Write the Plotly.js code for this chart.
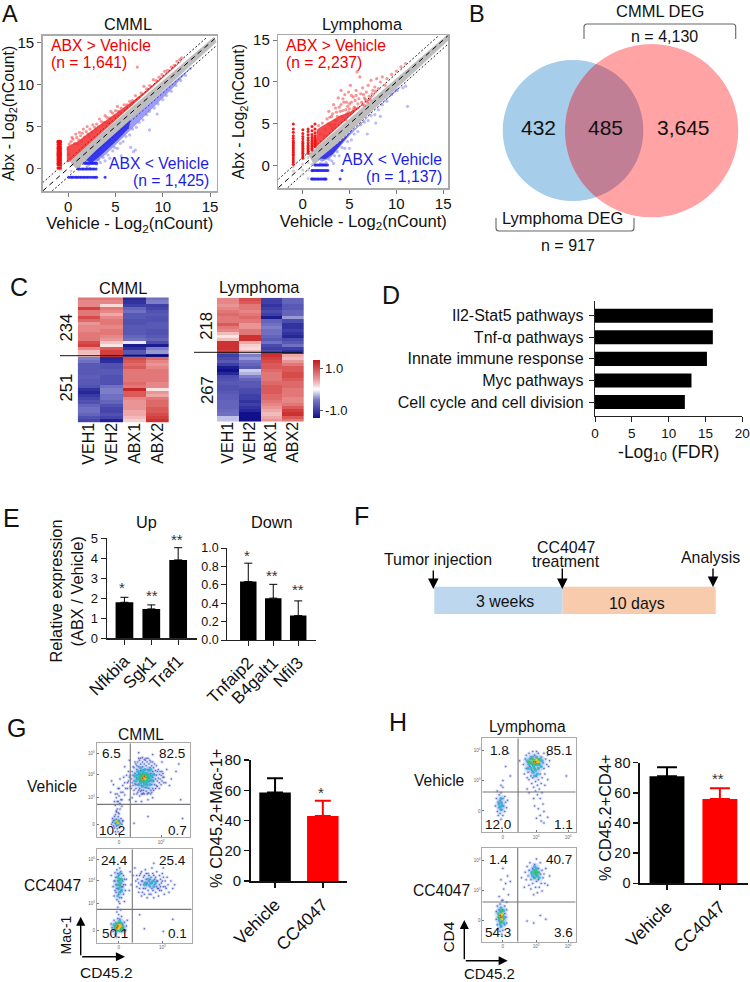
<!DOCTYPE html>
<html><head><meta charset="utf-8">
<script src="https://cdn.plot.ly/plotly-3.0.1.min.js"></script>
<style>html,body{margin:0;padding:0;background:#fff}#c{width:750px;height:982px}</style></head>
<body><div id="c"></div>
<script>
// ===== DATA =====
// Panel A - CMML
const cmmlBandX=[0.1,15.4,15.7,0.9];
const cmmlBandY=[0.9,15.7,15.1,-0.1];
const cmmlRedEdgeX=[-0.15,-0.15,0.4,1,2,3,4,5,6,7,8,9,10,11,12,11.9,10,8,6,4,2,0.5,0.1];
const cmmlRedEdgeY=[0.7,2.6,2.9,3.2,4.1,4.9,5.7,6.6,7.4,8.2,9.1,10,11,12,12.9,12.7,10.8,8.8,6.8,4.8,2.8,1.3,0.8];
const cmmlBlueEdgeX=[1.7,2.2,3,4,5,6,7,8,9,10,11,12,13,13.2,11,9,7,5,3];
const cmmlBlueEdgeY=[0.7,0.3,0.8,1.7,2.8,3.9,5.0,6.1,7.2,8.3,9.5,10.8,12.1,12.3,10.2,8.2,6.2,4.2,2.2];
const cmmlBlueCoreX=[1.9,2.4,3.2,4.2,5.2,6.4,6.6,5,3];
const cmmlBlueCoreY=[1.0,0.6,1.3,2.3,3.4,4.8,5.8,4.2,2.2];
const cmmlRedColX=[-1.08,-0.95,-0.82];
const cmmlRedColY=[0.05,0.4,0.6,0.8,1.0,1.15,1.35,1.5,1.7,1.85,2.0,2.2,2.4,2.6,2.85,3.1,3.25];
const cmmlRedPts=[[0.0,2.3],[0.05,1.7],[0.1,2.9],[0.3,3.2],[0.5,3.5],[0.7,3.0],[0.9,3.7],[1.1,3.4],[1.3,3.9],[1.5,4.2],[1.7,3.7],[1.9,4.4],[2.1,4.1],[2.3,4.7],[2.5,4.3],[2.8,4.9],[3.0,5.3],[3.2,5.0],[3.5,5.6],[3.8,5.5],[4.1,6.1],[4.4,6.0],[4.7,6.6],[5.0,6.9],[5.3,6.8],[5.6,7.2],[5.9,7.6],[6.2,7.6],[6.5,8.0],[6.8,8.1],[7.1,8.7],[7.4,8.4],[7.7,9.0],[8.0,9.8],[8.3,9.5],[8.6,9.9],[9.0,10.6],[9.3,10.5],[9.6,10.9],[9.9,11.2],[10.2,11.6],[10.5,11.7],[10.9,12.1],[11.2,12.3],[11.5,12.8],[11.8,13.0],[12.0,13.2],[7.3,12.1],[0.4,3.7],[0.8,4.1],[1.2,4.3],[1.6,4.7],[2.0,5.0],[2.6,5.2],[3.3,5.9],[3.9,6.3],[4.5,6.8],[5.2,7.4],[1.0,2.9],[1.4,3.3],[2.2,3.8],[2.9,4.6],[3.6,5.2],[4.2,5.5],[4.9,6.2],[5.5,6.7],[6.1,7.2],[6.7,7.7]];
const cmmlBluePts=[[2.0,0.2],[2.3,0.0],[2.6,0.6],[3.0,0.5],[3.2,1.0],[3.4,0.7],[3.7,1.3],[3.9,0.9],[4.2,1.6],[4.4,1.2],[4.7,2.1],[4.9,2.5],[5.2,2.4],[5.5,3.0],[5.8,3.2],[6.1,3.8],[6.5,4.0],[6.8,4.7],[7.2,4.9],[7.5,5.5],[7.9,5.8],[8.3,6.4],[8.6,6.8],[9.1,7.2],[9.5,7.7],[10,8.2],[10.4,8.7],[10.9,9.2],[11.4,9.9],[11.9,10.5],[12.4,11.1],[12.9,11.9],[8.6,4.6],[6.9,2.0],[7.1,2.2],[6.6,2.5],[5.6,1.5],[9.4,6.5]];
const cmmlBlueRowA=[0.05,0.25,0.4,0.55,0.75,0.9,1.05,1.25,1.4,1.6,1.75,1.95,2.1,2.3,2.5,2.7,2.85,3.0,3.9];
const cmmlBlueRowB=[1.05,1.2,1.4,1.55,1.7,1.9,2.05,2.25,2.4,2.6,2.75,2.95];
const cmmlBlueRowC=[1.7,1.85,2.0,2.2,2.4,2.55,2.7,2.85,3.0];
const cmmlGreyPts=[[0.5,0.5],[0.8,0.4],[1.1,0.9],[-0.8,-0.2],[0.3,-0.3]];
// Panel A - Lymphoma
const lymBandX=[0.6,15.4,15.6,1.2];
const lymBandY=[1.4,15.6,15.0,0.1];
const lymRedEdgeX=[1.4,1.5,2,3,4,5,6,7,8,7.8,6,4,2.2,1.5];
const lymRedEdgeY=[2.3,4.3,4.7,5.4,6.0,6.4,7.0,7.7,8.9,8.7,6.9,4.9,3.1,2.3];
const lymBlueEdgeX=[1.6,2.1,3,4,5,6,7,8,9,10,10.5,8,6,4,2.5];
const lymBlueEdgeY=[0.8,0.5,1.0,2.3,3.6,4.7,5.8,6.9,8.0,9.2,9.4,6.9,4.9,2.9,1.4];
const lymBlueCoreX=[1.8,2.4,3.2,4.2,5.2,5.6,4.5,3];
const lymBlueCoreY=[0.9,0.8,1.4,2.7,4.0,4.6,3.4,2.0];
const lymRedColsX=[-1,0.02,0.58,1.0,1.32];
const lymRedCol0=[0.2,0.45,0.7,0.95,1.2,1.4,1.6,1.8,2.0,2.2,2.4,2.6,2.8,3.0,3.3,3.6,4.0,4.4,5.0];
const lymRedCol1=[0.9,1.1,1.3,1.5,1.7,1.9,2.1,2.3,2.5,2.7,2.9,3.2,3.5,3.85,4.3];
const lymRedCol2=[1.5,1.7,1.9,2.1,2.3,2.5,2.75,3.05,3.35,3.7,4.1,4.4];
const lymRedCol3=[1.9,2.1,2.3,2.5,2.7,2.9,3.15,3.4,3.75,4.2,4.7];
const lymRedCol4=[2.3,2.5,2.7,2.9,3.1,3.3,3.6,3.95,4.4,5.0];
const lymRedPts=[[1.7,4.8],[1.9,3.8],[2.1,5.1],[2.4,4.4],[2.6,5.6],[2.8,6.5],[3.0,4.9],[3.1,5.9],[3.3,7.3],[3.5,5.4],[3.6,6.4],[3.8,8.1],[3.9,7.0],[4.1,9.0],[4.2,5.9],[4.3,6.6],[4.4,7.6],[4.5,8.5],[4.7,6.2],[4.8,7.1],[4.9,8.8],[5.0,6.8],[5.1,9.6],[5.2,7.6],[5.3,6.4],[5.4,8.2],[5.5,7.0],[5.7,9.0],[5.8,11.2],[5.9,7.4],[6.0,8.0],[6.1,10.6],[6.3,7.6],[6.4,9.3],[6.5,8.5],[6.7,7.9],[6.8,8.8],[7.0,9.6],[7.1,8.3],[7.3,10.2],[7.5,9.0],[7.7,9.4],[7.9,10.4],[8.1,9.2],[8.3,10.0],[8.5,10.6],[9.0,10.4],[9.5,10.9],[10.0,11.3],[10.5,11.8],[11,12.2],[4.6,5.5],[3.2,4.5],[2.3,3.6],[3.4,4.9],[5.6,6.9],[6.6,7.2],[2.7,5.0],[2.9,5.8],[3.2,6.2],[3.5,6.9],[3.7,5.9],[4.0,6.5],[4.1,7.3],[4.3,8.0],[4.6,6.7],[4.7,7.6],[4.9,6.4],[5.0,7.4],[5.2,8.4],[5.4,6.7],[5.6,7.8],[5.7,8.4],[5.9,6.9],[6.2,8.6],[6.4,7.3],[6.6,8.1],[6.9,7.6],[7.2,7.9],[7.4,8.6],[7.8,8.9],[8.8,9.6]];
const lymBluePts=[[1.9,0.3],[2.2,0.2],[2.5,0.4],[2.8,0.8],[3.1,0.6],[3.4,1.2],[3.7,1.7],[3.9,1.2],[4.2,2.2],[4.5,2.1],[4.8,2.9],[5.2,3.1],[5.5,3.8],[5.9,4.1],[6.2,4.9],[6.6,5.2],[7.0,5.4],[7.3,6.0],[7.7,6.1],[8.1,6.7],[8.5,7.3],[9.0,7.7],[9.5,8.5],[10.1,9.0],[10.7,9.3],[11,9.5],[11.2,7.1],[6.9,3.8],[7.8,5.1],[8.3,5.9],[5.0,2.1],[3.3,0.3]];
const lymBlueRowA=[0.95,1.05,1.2,1.3,1.45,1.6,1.7,1.85,2.0,2.15,2.3,2.4,2.5,4.0];
const lymBlueRowB=[1.0,1.1,1.25,1.4,1.55,1.65,1.8,1.95,2.1,2.25,2.4,2.55,2.7,4.2];
const lymBlueRowC=[1.3,1.45,1.6,1.75,1.9,2.05,2.2,2.35,2.5,2.65];
const lymGreyPts=[[0.02,-0.5],[0.02,-1.0],[0.02,0.2],[0.58,-0.5],[0.58,0.4],[0.58,1.0],[1.0,0.2],[1.0,1.2],[1.0,-0.6],[1.32,0.7],[1.32,1.6],[-1,-0.6],[-1,-0.1],[0.58,-1.5],[1.0,-1.5]];
// Panel C - heat map rows (top to bottom)
const heatCols=["VEH1","VEH2","ABX1","ABX2"];
const cmmlVEH1=[.7,.6,.6,1.1,.7,.7,1.0,.8,.5,.6,.6,.7,.7,.7,1.0,1.1,.6,.3,.25,-.5,-.6,-.8,-.8,-.8,-.8,-.75,-.8,-.8,-.85,-1.1,-1.2,-1.05,-.95,-.85,-.7,-.6,-.6,-.7,-.85,-.95];
const cmmlVEH2=[.7,.6,.15,.7,.6,.4,.6,.7,.7,.6,.7,.7,.6,.5,.25,.1,.9,1.1,1.1,-1.2,-1.15,-.85,-.85,-.8,-.8,-.85,-.85,-.85,-.6,-.5,-.5,-.6,-.6,-.7,-.85,-.95,-.95,-.85,-.95,-1.25];
const cmmlABX1=[-1.2,-1.1,-1.0,-.7,-.6,-.8,-.8,-.85,-.85,-.8,-.8,-.8,-.7,-.6,-.1,-1.3,-1.1,-.8,-1.0,1.0,.9,.8,.9,.7,.7,.7,.7,.8,.7,1.3,.9,.9,.6,.5,.5,.5,.4,.4,.3,.2];
const cmmlABX2=[-.6,-.5,-1.0,-.95,-.85,-.8,-.85,-.85,-.8,-.8,-.85,-.85,-.8,-.7,-.9,-1.3,-.5,-.4,-1.3,.8,.6,.5,.6,.7,.7,.7,.7,.6,.6,.1,.5,.4,.7,.8,.8,.9,.9,1.0,1.1,1.2];
const lymVEH1=[.6,.6,.5,.6,.7,.8,.7,.7,.9,.7,.6,.3,.1,.3,1.2,1.2,1.2,1.1,-1.0,-.9,-.8,-1.0,-1.3,-1.4,-1.2,-.9,-.85,-.8,-.85,-.85,-.8,-.75,-.75,-.7,-.7,-.7,-.65,-.6,-.25,-.25];
const lymVEH2=[1.0,.9,.7,.7,.6,.7,.8,.7,.5,.5,.7,.7,1.2,1.2,.4,.2,.15,.3,-.5,-.4,-.6,-.7,-.8,-.2,-.3,-.5,-.7,-.8,-.8,-.9,-.9,-1.0,-1.0,-1.1,-1.0,-1.1,-1.2,-1.4,-1.4,-1.4];
const lymABX1=[-1.0,-1.0,-1.1,-1.0,-.9,-1.0,-1.3,-.7,-.6,-.5,-.6,-.6,-.7,-.8,-.6,-.9,-1.0,-.9,1.2,1.1,1.0,.9,.9,.8,.7,.7,.7,.8,.9,.9,.9,.8,.8,.7,.6,.5,.4,.3,.4,.5];
const lymABX2=[-.7,-.7,-.8,-.8,-.7,-.7,-.4,-.9,-1.1,-1.1,-1.0,-1.1,-1.2,-.9,-.8,-.6,-1.0,-1.1,.4,.3,.5,.7,.9,.9,1.0,1.0,.9,.8,.8,.7,.7,.7,.6,.6,.7,.9,1.1,1.2,.9,.7];
// Panel D
const pathways=["Il2-Stat5 pathways","Tnf-α pathways","Innate immune response","Myc pathways","Cell cycle and cell division"];
const fdrValues=[16,16,15.2,13.1,12.2];
// Panel E
const upGenes=["Nfkbia","Sgk1","Traf1"];
const upValues=[1.8,1.47,3.92];
const upErr=[0.25,0.2,0.61];
const downGenes=["Tnfaip2","B4galt1","Nfil3"];
const downValues=[0.635,0.455,0.265];
const downErr=[0.2,0.15,0.16];
// Panels G, H bars
const groups=["Vehicle","CC4047"];
const gValues=[58.5,43];
const gErr=[9.5,10];
const hValues=[71,56];
const hErr=[6,7];
// Flow cytometry events (display units, 0-100)
const gTopBlue=[[37,62],[38,70],[39,55],[39,66],[40,50],[40,60],[40,74],[41,57],[41,68],[42,78],[42,52],[43,63],[43,72],[44,48],[44,56],[44,80],[45,67],[45,75],[46,52],[46,60],[46,82],[47,49],[47,71],[47,78],[48,55],[48,46],[49,75],[49,80],[50,50],[50,58],[50,47],[51,78],[51,72],[52,53],[52,82],[53,49],[53,76],[54,56],[54,80],[55,47],[55,72],[56,52],[56,78],[57,60],[57,74],[58,50],[58,68],[59,76],[59,56],[60,64],[60,70],[60,52],[61,60],[61,74],[62,56],[62,67],[63,71],[63,62],[64,55],[64,66],[65,60],[65,70],[66,63],[67,58],[67,67],[68,62],[69,66],[70,60],[72,64],[74,58],[34,60],[33,52],[32,66],[30,45],[30,58],[28,55],[27,40],[26,48],[25,62],[24,35],[24,44],[23,52],[22,30],[22,38],[21,42],[21,28],[20,34],[20,46],[23,26],[25,30],[27,33],[19,38],[18,56],[16,60],[15,48],[35,40],[38,42],[42,38],[48,38],[55,40],[60,42],[75,72],[78,55],[80,62],[85,70],[90,40],[35,82],[30,75],[45,90],[60,88],[70,80],[28,18],[40,15],[55,22],[88,78],[92,20],[16,14],[17,20],[18,12],[18,18],[19,22],[19,10],[20,15],[20,24],[21,12],[21,19],[22,9],[22,16],[23,13],[23,22],[24,18],[25,11],[25,15],[26,20],[27,14],[28,17],[17,16],[24,25],[21,27],[20,6],[23,6],[38,58],[39,75],[40,46],[41,80],[42,56],[43,46],[43,76],[45,50],[45,84],[46,44],[47,84],[48,50],[49,46],[49,85],[51,46],[51,83],[53,84],[54,46],[55,84],[56,47],[57,82],[58,46],[58,80],[59,48],[60,80],[61,50],[62,78],[63,52],[64,76],[65,54],[66,72],[67,52],[68,70],[69,56],[70,70],[71,64],[72,58],[71,68],[36,66],[37,52],[36,54],[35,64],[34,70],[33,58],[31,52],[29,64],[28,48],[26,40],[24,52],[23,38],[22,46],[25,36]];
const gTopCyan=[[42,60],[43,66],[44,62],[44,70],[45,56],[46,64],[46,69],[47,58],[47,74],[48,62],[48,67],[49,54],[49,71],[50,60],[50,69],[51,56],[51,65],[52,72],[52,61],[53,58],[53,68],[54,63],[54,53],[55,67],[55,59],[56,71],[56,63],[57,56],[57,66],[58,61],[58,72],[59,65],[60,60],[61,67],[41,65],[20,18],[22,14],[23,17],[21,16],[24,15]];
const gTopGreen=[[46,62],[47,66],[48,60],[49,65],[50,63],[50,67],[51,60],[52,64],[53,66],[54,61],[48,64],[55,64],[22,16]];
const gTopHot=[[49,63],[51,65],[52,62],[21,17],[23,15]];
const gBotBlue=[[15,72],[17,60],[18,66],[18,50],[19,75],[19,56],[20,62],[20,70],[21,46],[21,78],[22,58],[22,66],[23,52],[23,72],[24,42],[24,62],[24,80],[25,55],[25,68],[26,48],[26,74],[27,60],[27,66],[28,52],[28,72],[29,44],[30,62],[30,56],[31,68],[22,38],[25,35],[23,30],[26,28],[21,33],[24,25],[42,60],[43,68],[44,54],[45,72],[46,62],[47,50],[47,76],[48,66],[49,58],[50,72],[50,52],[51,78],[52,62],[52,68],[53,48],[54,74],[54,56],[55,66],[56,60],[57,70],[57,52],[58,80],[58,64],[59,56],[60,72],[60,48],[61,62],[61,68],[62,54],[63,76],[63,60],[64,66],[65,50],[65,58],[66,72],[66,62],[67,68],[68,56],[68,64],[69,74],[70,60],[71,52],[72,66],[73,58],[74,70],[75,62],[76,54],[78,66],[80,58],[82,62],[38,72],[36,62],[34,56],[35,76],[40,80],[60,85],[70,80],[45,30],[70,12],[80,25],[50,15],[15,20],[17,12],[18,24],[19,9],[20,14],[20,21],[21,6],[22,26],[26,12],[27,20],[28,16],[29,22],[30,13],[31,18],[16,16],[32,24],[41,66],[42,72],[44,64],[45,58],[46,74],[47,66],[48,54],[49,70],[50,64],[51,58],[52,74],[53,64],[55,52],[55,72],[56,68],[58,58],[59,74],[60,66],[62,70],[63,66],[64,58],[66,56],[67,60],[69,66],[70,70],[72,60],[19,66],[21,58],[22,74],[24,48],[25,76],[26,60],[28,62],[29,68],[20,54],[23,44]];
const gBotCyan=[[21,62],[22,70],[23,66],[23,58],[24,74],[24,54],[25,64],[25,60],[26,68],[26,56],[22,50],[52,64],[55,62],[57,64],[59,66],[54,68],[60,60],[62,64],[50,62],[19,16],[20,18],[21,14],[22,20],[24,13],[25,21],[26,15],[27,18],[24,23],[18,19],[28,14]];
const gBotGreen=[[23,62],[24,68],[20,17],[21,20],[22,13],[23,21],[25,14],[26,18],[27,16]];
const gBotHot=[[21,16],[22,18],[23,15],[24,17],[25,18],[23,18],[22,15],[24,19]];
const hTopBlue=[[44,72],[45,62],[46,78],[47,68],[47,82],[48,58],[49,74],[49,64],[50,84],[50,56],[51,70],[52,60],[52,80],[53,52],[53,66],[54,86],[54,58],[55,48],[55,64],[56,82],[57,54],[57,44],[58,60],[58,86],[59,50],[59,40],[60,56],[60,84],[61,46],[62,62],[62,36],[63,80],[63,52],[64,58],[64,42],[65,74],[65,30],[66,68],[66,84],[67,62],[67,50],[68,78],[69,72],[70,82],[71,70],[72,76],[55,36],[50,42],[48,46],[70,56],[30,60],[25,70],[28,84],[40,76],[90,60],[22,55],[22,48],[60,25],[62,18],[66,22],[56,28],[63,12],[70,16],[58,15],[66,10],[14,28],[15,36],[16,22],[17,32],[17,18],[18,26],[18,40],[19,20],[19,34],[20,14],[20,42],[21,30],[21,24],[22,18],[22,36],[23,28],[24,38],[24,22],[25,32],[26,26],[27,34],[16,44],[20,50]];
const hTopCyan=[[50,72],[51,78],[52,68],[53,74],[54,80],[54,64],[55,70],[56,76],[56,60],[57,66],[58,72],[58,80],[59,62],[60,76],[60,68],[61,72],[62,78],[63,70],[48,76],[49,68],[64,76],[18,30],[19,27],[20,32],[21,28],[20,24],[20,36]];
const hTopGreen=[[52,74],[53,78],[54,72],[55,76],[56,72],[57,77],[58,74],[59,78],[60,73],[61,76],[50,75],[56,68]];
const hTopHot=[[55,75],[57,75],[59,75],[58,77],[60,75]];
const hBotBlue=[[46,74],[47,66],[48,80],[49,70],[50,60],[50,76],[51,84],[52,66],[52,56],[53,72],[54,78],[54,62],[55,50],[55,68],[56,82],[57,58],[57,74],[58,88],[58,64],[59,52],[60,78],[60,66],[61,58],[62,72],[62,84],[63,62],[64,76],[64,54],[65,68],[66,72],[67,62],[68,78],[45,58],[42,68],[70,60],[72,70],[30,64],[22,78],[25,62],[28,50],[23,56],[26,42],[20,66],[18,48],[24,38],[27,70],[22,44],[55,20],[62,28],[68,24],[48,22],[15,24],[15,32],[16,18],[16,38],[17,26],[17,14],[18,34],[18,22],[19,40],[19,11],[20,17],[21,44],[22,12],[22,34],[23,24],[24,18],[24,30],[25,26],[26,34],[26,20],[21,8]];
const hBotCyan=[[53,74],[54,70],[55,76],[56,68],[57,72],[58,78],[59,70],[60,74],[56,80],[61,68],[17,30],[18,24],[19,33],[19,19],[20,36],[21,22],[22,28],[23,33],[23,20],[20,16],[24,26]];
const hBotGreen=[[56,73],[57,76],[58,71],[59,74],[18,28],[19,25],[20,31],[21,26],[22,24],[20,21],[21,33]];
const hBotHot=[[19,28],[20,26],[21,29],[20,29],[21,24]];

// ===== BUILD =====
const traces=[], axes={}, shapes=[], anns=[];
let axN=1;
const BLK='#111';
function dom(a,b){return [a/750,b/750];}
function domY(top,bot){return [1-bot/982,1-top/982];}
function addAxes(x0,x1,y0,y1,xo,yo){
  axN++;
  const xn='xaxis'+axN, yn='yaxis'+axN;
  axes[xn]=Object.assign({domain:dom(x0,x1),anchor:'y'+axN,showgrid:false,zeroline:false,fixedrange:true},xo);
  axes[yn]=Object.assign({domain:domY(y0,y1),anchor:'x'+axN,showgrid:false,zeroline:false,fixedrange:true},yo);
  return {xaxis:'x'+axN,yaxis:'y'+axN};
}
function T(x,y,text,size,opt){
  anns.push(Object.assign({x:x,y:y,xref:'x',yref:'y',text:text,showarrow:false,xanchor:'center',yanchor:'middle',
    font:{family:'Liberation Sans, Arial, sans-serif',size:size,color:BLK}},opt||{}));
}
function arrow(x0,y0,x1,y1,sz){
  anns.push({x:x1,y:y1,ax:x0,ay:y0,xref:'x',yref:'y',axref:'x',ayref:'y',text:'',showarrow:true,arrowhead:2,arrowsize:sz||1.5,arrowwidth:1.4,arrowcolor:'#000',standoff:0});
}
function pts(a,list,color,size,op,sym){
  traces.push(Object.assign({type:'scatter',mode:'markers',x:list.map(p=>p[0]),y:list.map(p=>p[1]),hoverinfo:'skip',showlegend:false,
    marker:{color:color,size:size,opacity:op,line:{width:0},symbol:sym||'circle'}},a));
}
function poly(a,xs,ys,color){
  traces.push(Object.assign({type:'scatter',mode:'lines',x:xs,y:ys,fill:'toself',fillcolor:color,line:{width:0},hoverinfo:'skip',showlegend:false},a));
}
function ln(a,xs,ys,color,w,dash){
  traces.push(Object.assign({type:'scatter',mode:'lines',x:xs,y:ys,line:{color:color,width:w,dash:dash||'solid'},hoverinfo:'skip',showlegend:false},a));
}
// overlay in page pixels
traces.push({type:'scatter',mode:'none',x:[0],y:[0],hoverinfo:'skip',showlegend:false,xaxis:'x',yaxis:'y'});

const F='Liberation Sans, Arial, sans-serif';
function axA(range,titleText,tsize,so,lab){
  return {range:range,showline:true,mirror:true,linecolor:'#aaa',linewidth:1.5,ticks:'outside',ticklen:4,tickcolor:'#777',ticklabelstandoff:lab,
    tickvals:[0,5,10,15],tickangle:0,tickfont:{family:F,size:15,color:BLK},
    title:{text:titleText,font:{family:F,size:tsize,color:BLK},standoff:so}};
}
const rowC=(x,l)=>l.map(y=>[x,y]);
function scatterA(a,o){
  const lim=o.lim;
  ln(a,[lim[0],lim[1]-1],[lim[0]+1,lim[1]],'#222',1,'2px,2px');
  ln(a,[lim[0]+1,lim[1]],[lim[0],lim[1]-1],'#222',1,'2px,2px');
  poly(a,o.bandX,o.bandY,'#bdbdbd');
  o.grey.length&&pts(a,o.grey,'#bbb',3,.7);
  poly(a,o.redX,o.redY,'rgba(240,20,20,0.76)');
  poly(a,o.blueX,o.blueY,'rgba(90,90,245,0.6)');
  poly(a,o.coreX,o.coreY,'rgba(30,30,235,0.8)');
  o.redCols.forEach(c=>pts(a,c,'#f01010',3,.95));
  pts(a,o.red,'#f23030',3.2,.5);
  pts(a,o.blue,'#5a5af0',3.2,.42);
  o.blueRows.forEach(c=>pts(a,c,'#2222ee',3,.85));
  ln(a,[lim[0],lim[1]],[lim[0],lim[1]],'#000',1,'5px,4px');
}
const aCmml=addAxes(42.7,216.7,35.7,191,axA([-2.7,15.7],'Vehicle - Log<sub>2</sub>(nCount)',16.6,0,-3),axA([-2.7,15.85],'Abx - Log<sub>2</sub>(nCount)',15.8,4,0));
scatterA(aCmml,{lim:[-2.7,15.7],bandX:cmmlBandX,bandY:cmmlBandY,redX:cmmlRedEdgeX,redY:cmmlRedEdgeY,blueX:cmmlBlueEdgeX,blueY:cmmlBlueEdgeY,coreX:cmmlBlueCoreX,coreY:cmmlBlueCoreY,grey:cmmlGreyPts,
 redCols:cmmlRedColX.map(x=>rowC(x,cmmlRedColY)),red:cmmlRedPts,blue:cmmlBluePts,
 blueRows:[cmmlBlueRowA.map(x=>[x,-1.07]),cmmlBlueRowB.map(x=>[x,-0.08]),cmmlBlueRowC.map(x=>[x,0.6])]});
const aLym=addAxes(278.3,448.3,35,188.3,axA([-2.6,15.55],'Vehicle - Log<sub>2</sub>(nCount)',16.6,0,-3),axA([-2.67,15.6],'Abx - Log<sub>2</sub>(nCount)',15.8,4,0));
scatterA(aLym,{lim:[-2.6,15.55],bandX:lymBandX,bandY:lymBandY,redX:lymRedEdgeX,redY:lymRedEdgeY,blueX:lymBlueEdgeX,blueY:lymBlueEdgeY,coreX:lymBlueCoreX,coreY:lymBlueCoreY,grey:lymGreyPts,
 redCols:[lymRedCol0,lymRedCol1,lymRedCol2,lymRedCol3,lymRedCol4].map((l,i)=>rowC(lymRedColsX[i],l)),red:lymRedPts,blue:lymBluePts,
 blueRows:[lymBlueRowA.map(x=>[x,-1.56]),lymBlueRowB.map(x=>[x,-0.56]),lymBlueRowC.map(x=>[x,0.1])]});
const RED='#f00000', BLUE='#1c1ce8';
T(127.5,24,'CMML',16.3);T(362,24,'Lymphoma',16.3);
T(49.3,45,'ABX &gt; Vehicle',15.7,{xanchor:'left',font:{family:F,size:15.7,color:RED}});
T(49.3,62,'(n = 1,641)',15.7,{xanchor:'left',font:{family:F,size:15.7,color:RED}});
T(211,163,'ABX &lt; Vehicle',15.7,{xanchor:'right',font:{family:F,size:15.7,color:BLUE}});
T(211,180,'(n = 1,425)',15.7,{xanchor:'right',font:{family:F,size:15.7,color:BLUE}});
T(284,45,'ABX &gt; Vehicle',15.7,{xanchor:'left',font:{family:F,size:15.7,color:RED}});
T(284,62,'(n = 2,237)',15.7,{xanchor:'left',font:{family:F,size:15.7,color:RED}});
T(444,159.5,'ABX &lt; Vehicle',15.7,{xanchor:'right',font:{family:F,size:15.7,color:BLUE}});
T(444,176,'(n = 1,137)',15.7,{xanchor:'right',font:{family:F,size:15.7,color:BLUE}});
// letters
[['A',10,14,23.5],['B',477,14,23.5],['C',19,287,25],['D',390.7,295,25],['E',11,518,25],['F',361.7,516,25],['G',16.7,728,25],['H',398,721.5,25]].forEach(l=>T(l[1],l[2],l[0],l[3]));

// B venn
shapes.push({type:'circle',xref:'x',yref:'y',x0:502.7,x1:643.3,y0:60,y1:201,fillcolor:'#a6cde9',line:{width:0},layer:'above'});
shapes.push({type:'circle',xref:'x',yref:'y',x0:565,x1:738.3,y0:44,y1:217.3,fillcolor:'#ffa3a5',line:{width:0},layer:'above'});
shapes.push({type:'path',xref:'x',yref:'y',path:'M596.1,64 C554.7,98.5 554.7,162.9 596.1,197 C659,175.2 659,85.8 596.1,64 Z',fillcolor:'#c07f95',line:{width:0},layer:'above'});
T(538.3,127,'432',21);T(605,127,'485',21);T(683,127,'3,645',21);
T(660,11,'CMML DEG',16.5);T(664,36,'n = 4,130',16);T(562.3,218,'Lymphoma DEG',16.5);T(568,245,'n = 917',16);
shapes.push({type:'path',xref:'x',yref:'y',path:'M584,39 L584,27 Q584,24 587,24 L732.7,24 Q735.7,24 735.7,27 L735.7,39',line:{color:'#666',width:1.1},layer:'above'});
shapes.push({type:'path',xref:'x',yref:'y',path:'M496,218 L496,228 Q496,231 499,231 L631,231 Q634,231 634,228 L634,218',line:{color:'#666',width:1.1},layer:'above'});

// C heat maps
const hs=[[0,'#10108a'],[0.143,'#3f3fa8'],[0.32,'#7c7cc8'],[0.46,'#e6e6f4'],[0.5,'#ffffff'],[0.56,'#f6d4d4'],[0.68,'#ea9494'],[0.86,'#d64a4a'],[1,'#c41a1a']];
function heat(x0,x1,y0,y1,cols,cb){
  const a=addAxes(x0,x1,y0,y1,{type:'category',tickangle:-90,ticks:'',tickfont:{family:F,size:16,color:BLK},showline:false,ticklabelstandoff:-4},
    {range:[39.5,-0.5],showticklabels:false,ticks:'',showline:false});
  const z=cols[0].map((_,r)=>cols.map(c=>c[r]));
  const t=Object.assign({type:'heatmap',x:heatCols,y:z.map((_,i)=>i),z:z,zmin:-1.4,zmax:1.4,colorscale:hs,zsmooth:false,hoverinfo:'skip',showscale:!!cb},a);
  if(cb) t.colorbar={x:312.7/750,xanchor:'left',y:1-418.3/982,yanchor:'bottom',lenmode:'pixels',len:57.6,thickness:7.3,thicknessmode:'pixels',outlinewidth:0,xpad:0,ypad:0,
    tickmode:'array',tickvals:[-1,1],ticktext:['-1.0','1.0'],ticks:'outside',ticklen:3,tickcolor:'#555',tickfont:{family:F,size:13,color:BLK}};
  traces.push(t);
}
heat(77.7,169,297.3,422.7,[cmmlVEH1,cmmlVEH2,cmmlABX1,cmmlABX2],false);
heat(217,303.7,297.7,421.7,[lymVEH1,lymVEH2,lymABX1,lymABX2],true);
shapes.push({type:'line',xref:'x',yref:'y',x0:60,x1:168,y0:355.7,y1:355.7,line:{color:'#111',width:1},layer:'above'});
shapes.push({type:'line',xref:'x',yref:'y',x0:194,x1:302,y0:352.3,y1:352.3,line:{color:'#111',width:1},layer:'above'});
T(123,288,'CMML',16.4);T(259,287,'Lymphoma',16.4);
[['234',66.7,327.7],['251',66.7,387.7],['218',207,325.7],['267',207,390]].forEach(l=>T(l[1],l[2],l[0],16.6,{textangle:-90}));

// D
const blackAxis={showline:true,linecolor:'#222',linewidth:1.2,ticks:'outside',ticklen:5,tickcolor:'#222'};
const aD=addAxes(595,742.3,301,415.7,Object.assign({},blackAxis,{range:[0,20],tickvals:[0,5,10,15,20],ticklabeloverflow:'allow',tickfont:{family:F,size:13.5,color:BLK},
   title:{text:'-Log<sub>10</sub> (FDR)',font:{family:F,size:17.5,color:BLK},standoff:5}}),
  Object.assign({},blackAxis,{type:'category',range:[4.63,-0.68],tickfont:{family:F,size:16,color:BLK},ticklabelstandoff:2}));
traces.push(Object.assign({type:'bar',orientation:'h',y:pathways,x:fdrValues,width:0.65,marker:{color:'#000'},hoverinfo:'skip',showlegend:false},aD));

// bars helper
function bars(a,cats,vals,errs,colors,ew,th){
  traces.push(Object.assign({type:'bar',x:cats,y:vals,width:0.66,marker:{color:colors},hoverinfo:'skip',showlegend:false},a));
  cats.forEach((c,i)=>{
    traces.push(Object.assign({type:'scatter',mode:'markers',x:[c],y:[vals[i]],marker:{size:1,opacity:0},hoverinfo:'skip',showlegend:false,
      error_y:{type:'data',symmetric:false,array:[errs[i]],arrayminus:[0],color:Array.isArray(colors)?colors[i]:colors,thickness:th,width:ew}},a));
  });
}
// E
const aEu=addAxes(106.7,196.7,538.3,638.3,Object.assign({},blackAxis,{type:'category',range:[-0.66,2.69],tickangle:-45,tickfont:{family:F,size:17,color:BLK}}),
  Object.assign({},blackAxis,{range:[0,5],tickvals:[0,1,2,3,4,5],tickfont:{family:F,size:13,color:BLK}}));
bars(aEu,upGenes,upValues,upErr,'#000',4,1);
const aEd=addAxes(227.3,315.7,548,640,Object.assign({},blackAxis,{type:'category',range:[-0.84,2.7],tickangle:-45,tickfont:{family:F,size:17,color:BLK}}),
  Object.assign({},blackAxis,{range:[0,1],tickvals:[0,0.2,0.4,0.6,0.8,1],tickformat:'.1f',tickfont:{family:F,size:12.5,color:BLK}}));
bars(aEd,downGenes,downValues,downErr,'#000',4,1);
T(55,591.5,'Relative expression',16.4,{textangle:-90});T(76,591.5,'(ABX / Vehicle)',16.4,{textangle:-90});
T(146.7,522.3,'Up',16.3);T(271.7,522.3,'Down',16.3);
const S=(x,y,s)=>T(x,y,s,15,{font:{family:F,size:15,color:'#333'}});
S(122.3,587,'*');S(151.7,595,'**');S(177.3,539,'**');S(247.3,555,'*');S(271.7,575,'**');S(297.7,589,'**');

// F
shapes.push({type:'rect',xref:'x',yref:'y',x0:434.3,x1:562.7,y0:586.7,y1:614,fillcolor:'#bdd7ee',line:{width:0},layer:'above'});
shapes.push({type:'rect',xref:'x',yref:'y',x0:562.7,x1:715.7,y0:586.7,y1:614,fillcolor:'#f8cbad',line:{width:0},layer:'above'});
arrow(433.3,569,433.3,589);arrow(562.3,567,562.3,589);arrow(713,567,713,587);
T(438.3,559.3,'Tumor injection',15.9);T(565.7,547.7,'CC4047',15.9);T(566,561.5,'treatment',15.9);T(710,557.3,'Analysis',15.9);
T(505,601,'3 weeks',15.9);T(636.7,603.3,'10 days',15.9);

// Flow panels
function facs(x0,x1,y0,y1,qx,qy,tiers,xt,yt,xl,yl){
  const smallFont={family:F,size:4.5,color:'#666'};
  const a=addAxes(x0,x1,y0,y1,{range:[0,100],showline:true,mirror:true,linecolor:'#aaa',linewidth:1,ticks:'inside',ticklen:2,tickcolor:'#777',tickvals:xt,ticktext:xl,tickfont:smallFont,tickangle:0},
    {range:[0,100],showline:true,mirror:true,linecolor:'#aaa',linewidth:1,ticks:'inside',ticklen:2,tickcolor:'#777',tickvals:yt,ticktext:yl,tickfont:smallFont});
  pts(a,tiers[0],'#8a9ae8',3.6,.32);
  pts(a,tiers[1],'#8fb4ee',8,.3);
  pts(a,tiers[0],'#3240b8',1.5,.75);
  pts(a,tiers[1],'#1fb4c8',3.2,.8);
  pts(a,tiers[2],'#35c060',3,.9);
  pts(a,tiers[3],'#f2c020',2.6,1);
  pts(a,tiers[3].slice(0,2),'#e8301c',1.8,1);
  ln(a,[qx,qx],[0,100],'#777',1.1);
  ln(a,[0,100],[qy,qy],'#777',1.1);
}
const tk3='10<sup>3</sup>',tk4='10<sup>4</sup>',tk5='10<sup>5</sup>';
facs(96.7,190,743.3,837.3,36,35,[gTopBlue,gTopCyan,gTopGreen,gTopHot],[23.9,69],[13.8,42.5,67.3,89.4],['0',tk3],['0',tk3,tk4,tk5]);
facs(97,191.7,849.3,942.7,37.3,35.7,[gBotBlue,gBotCyan,gBotGreen,gBotHot],[23,69],[13,42,67,89],['0',tk3],['0',tk3,tk4,tk5]);
facs(482.3,575.7,738.3,832.3,38.3,42.9,[hTopBlue,hTopCyan,hTopGreen,hTopHot],[21.8,57.5,92],[22.7,54.9,86.8],['0',tk3,tk4],['0',tk3,tk4]);
facs(482.3,575.7,847.7,941.7,37.9,42.2,[hBotBlue,hBotCyan,hBotGreen,hBotHot],[21.8,57.5,92],[22.7,54.9,86.8],['0',tk3,tk4],['0',tk3,tk4]);
T(141,734,'CMML',15.6);
[['6.5',111.7,753.3],['82.5',171.7,753.3],['10.2',111.7,830],['0.7',177.3,830],['24.4',114,860.7],['25.4',172,860.7],['50.1',115,933.3],['0.1',177.3,933.3],
 ['1.8',499.3,750.7],['85.1',559,750.7],['12.0',498.3,824.7],['1.1',563.3,824.7],['1.4',498.3,859],['40.7',559.3,859],['54.3',498.3,932],['3.6',563.3,932]].forEach(l=>T(l[1],l[2],l[0],13.5));
T(51.7,786,'Vehicle',15.6);T(52.3,885.7,'CC4047',15.6);T(65,935.5,'Mac-1',14,{textangle:-90});T(106.7,972.3,'CD45.2',15.5);
arrow(80.7,956.7,80.7,916.7,1.3);arrow(80.7,956.7,125,956.7,1.3);
T(527.7,726,'Lymphoma',15.6);T(439,780,'Vehicle',15.6);T(441.7,890,'CC4047',15.6);T(448.3,937.3,'CD4',15.5,{textangle:-90});T(489.3,973,'CD45.2',15);
arrow(464.3,960.7,464.3,920,1.3);arrow(464.3,960.7,507.7,960.7,1.3);

// G, H bars
const thick={showline:true,linecolor:'#111',linewidth:1.6,ticks:'outside',ticklen:5,tickcolor:'#111',tickwidth:1.4};
const aG=addAxes(250.7,346.7,760,881,Object.assign({},thick,{type:'category',range:[-0.51,1.5],tickangle:-45,tickfont:{family:F,size:17.5,color:BLK}}),
  Object.assign({},thick,{range:[0,80],tickvals:[0,20,40,60,80],tickfont:{family:F,size:15,color:BLK}}));
bars(aG,groups,gValues,gErr,['#000','#f00'],8,2);
T(216,819,'% CD45.2+Mac-1+',16.4,{textangle:-90});
T(320.7,792,'*',15,{font:{family:F,size:15,color:'#333'}});
const aH=addAxes(640,747.7,762.7,883.3,Object.assign({},thick,{type:'category',range:[-0.51,1.526],tickangle:-45,tickfont:{family:F,size:17.5,color:BLK}}),
  Object.assign({},thick,{range:[0,80],tickvals:[0,20,40,60,80],tickfont:{family:F,size:14.5,color:BLK}}));
bars(aH,groups,hValues,hErr,['#000','#f00'],10,2);
T(605,818,'% CD45.2+CD4+',16.4,{textangle:-90});
T(718.3,778,'**',15,{font:{family:F,size:15,color:'#333'}});

const layout=Object.assign({width:750,height:982,margin:{l:0,r:0,t:0,b:0,pad:0},paper_bgcolor:'#fff',plot_bgcolor:'rgba(0,0,0,0)',showlegend:false,
  font:{family:F,color:BLK},hovermode:false,shapes:shapes,annotations:anns,
  xaxis:{domain:[0,1],range:[0,750],visible:false,fixedrange:true},
  yaxis:{domain:[0,1],range:[982,0],visible:false,fixedrange:true}},axes);
Plotly.newPlot('c',traces,layout,{displayModeBar:false,staticPlot:true});
</script></body></html>
